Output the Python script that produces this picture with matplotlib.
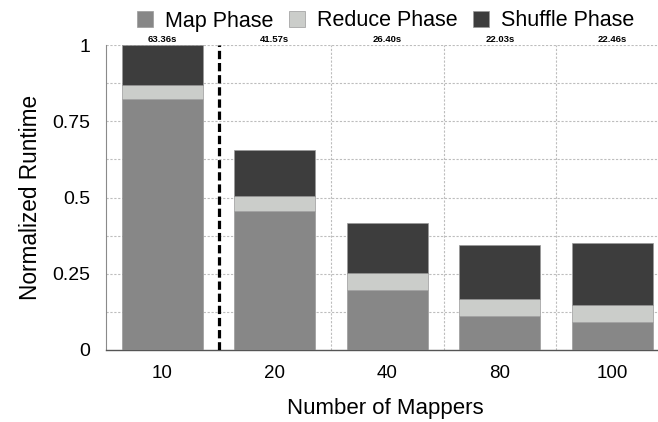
import matplotlib
matplotlib.use("Agg")
import matplotlib.pyplot as plt
import numpy as np

plt.rcParams['font.family'] = ['Liberation Sans', 'DejaVu Sans']

categories = ["10", "20", "40", "80", "100"]
map_phase = [0.823, 0.456, 0.197, 0.110, 0.093]
reduce_phase = [0.045, 0.048, 0.054, 0.056, 0.056]
shuffle_phase = [0.132, 0.151, 0.165, 0.179, 0.201]
runtimes = ["63.36s", "41.57s", "26.40s", "22.03s", "22.46s"]

c_map, c_red, c_shuf = "#878787", "#cbcdca", "#3d3d3d"

fig = plt.figure(figsize=(6.58, 4.22), dpi=100)
W, H = 658, 422
ax = fig.add_axes([106 / W, (H - 350) / H, 562.5 / W, 305 / H])

x = np.arange(len(categories))
bw = 0.72
m = np.array(map_phase)
r = np.array(reduce_phase)
s = np.array(shuffle_phase)
ec = "#9a9a9a"
ax.bar(x, m, bw, color=c_map, edgecolor=ec, linewidth=0.5, label="Map Phase", zorder=3)
ax.bar(x, r, bw, bottom=m, color=c_red, edgecolor=ec, linewidth=0.5, label="Reduce Phase", zorder=3)
ax.bar(x, s, bw, bottom=m + r, color=c_shuf, edgecolor=ec, linewidth=0.5, label="Shuffle Phase", zorder=3)

for xi, lab in zip(x, runtimes):
    ax.annotate(lab, (xi, 1.0), xytext=(0, 0.6), textcoords="offset points",
                ha="center", va="bottom", fontsize=6.8, fontweight="bold")

ax.set_xlim(-0.5, 4.5)
ax.set_ylim(0, 1)
ax.set_yticks([0, 0.25, 0.5, 0.75, 1])
ax.set_yticklabels(["0", "0.25", "0.5", "0.75", "1"])
ax.set_xticks(x)
ax.set_xticklabels(categories)
ax.tick_params(axis="y", length=0, pad=11.5, labelsize=14)
ax.tick_params(axis="x", length=0, pad=11, labelsize=13.5)

gkw = dict(color="#bdbdbd", linewidth=0.8, linestyle=(0, (2, 1.5)), zorder=1)
for yv in np.arange(0.125, 1.01, 0.125):
    ax.axhline(yv, **gkw)
for xv in [1.5, 2.5, 3.5]:
    ax.axvline(xv, **gkw)
ax.axvline(0.5, color="black", linewidth=2.3, linestyle=(0, (2.6, 1.2)), zorder=4)

for sp in ["top", "right"]:
    ax.spines[sp].set_visible(False)
ax.spines["left"].set_color("#8a8a8a")
ax.spines["left"].set_linewidth(0.8)
ax.spines["bottom"].set_color("#555555")
ax.spines["bottom"].set_linewidth(1.0)

ax.set_ylabel("Normalized Runtime", fontsize=16.3, labelpad=7)
fig.text(385 / W, 1 - 414 / H, "Number of Mappers", fontsize=16, ha="center", va="baseline")

fig.legend(loc="center", bbox_to_anchor=(385.5 / W, 1 - 21 / H), ncol=3, frameon=False,
           fontsize=15.5, handlelength=0.75, handleheight=0.75, handletextpad=0.56,
           columnspacing=0.7, borderpad=0)

fig.savefig("out.png", dpi=100)
